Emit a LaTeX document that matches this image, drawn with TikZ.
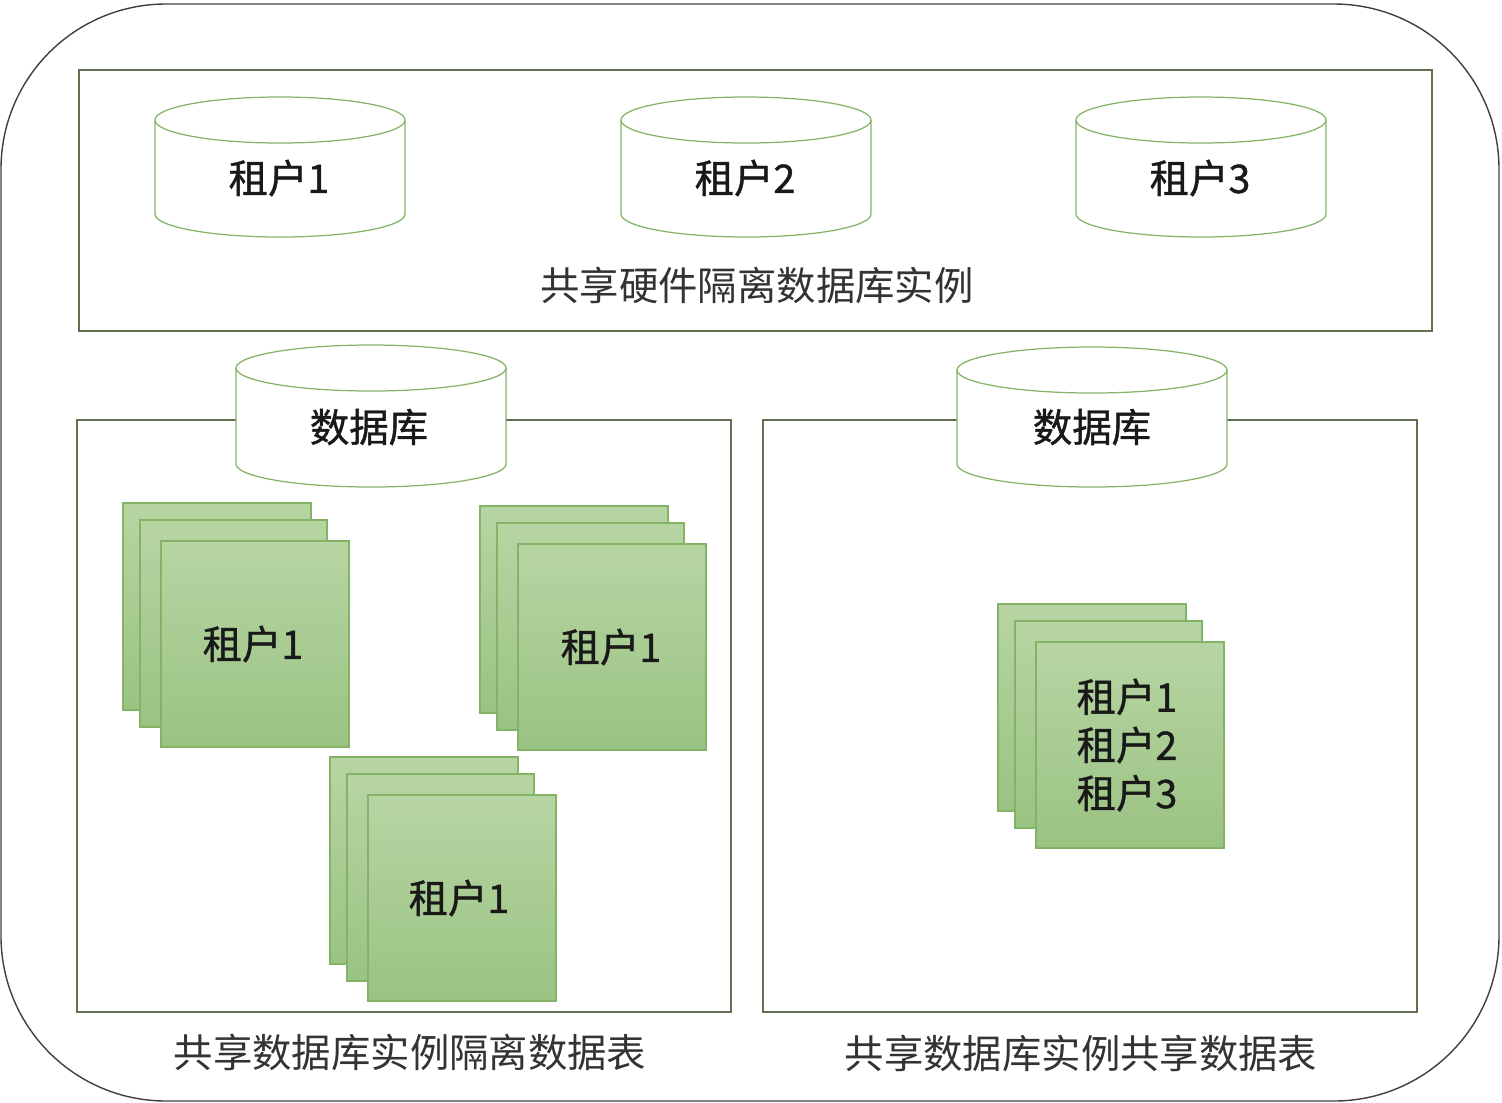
\documentclass[tikz,border=0pt]{standalone}
\usepackage{fontspec}
\setmainfont{Noto Sans CJK SC}
\newfontfamily\cjkheavy[FakeBold=1]{Noto Sans CJK SC}
\definecolor{boxline}{HTML}{5F6F50}
\definecolor{sheetline}{HTML}{82B366}
\definecolor{sheettop}{HTML}{B7D5A3}
\definecolor{sheetbottom}{HTML}{9AC382}
\tikzset{
    panel/.style={draw=boxline, line width=0.35pt},
    dbline/.style={draw=sheetline, line width=0.35pt, fill=white},
    sheet/.style={draw=sheetline, line width=0.45pt, top color=sheettop, bottom color=sheetbottom},
    tenant/.style={font=\cjkheavy\fontsize{11.2}{13.7}\selectfont, text=black!90, align=center, inner sep=0pt},
    caption/.style={font=\fontsize{11.2}{13}\selectfont, text=black!80, inner sep=0pt},
}
% cylinder: left, top, right, bottom
\newcommand{\dbcyl}[4]{
    \path[dbline] (#1,#2+23) -- (#1,#4-23)
        arc[start angle=180, end angle=0, x radius=(#3-#1)/2, y radius=23]
        -- (#3,#2+23);
    \path[dbline] ({(#1+#3)/2},#2+23) ellipse[x radius=(#3-#1)/2, y radius=23];
}
% three stacked sheets: left, top
\newcommand{\sheetstack}[2]{
    \path[sheet] (#1,#2) rectangle (#1+188,#2+207);
    \path[sheet] (#1+17,#2+17) rectangle (#1+204,#2+224);
    \path[sheet] (#1+38,#2+38) rectangle (#1+226,#2+244);
}
\begin{document}
\begin{tikzpicture}[x=0.01cm, y=-0.01cm]
    \useasboundingbox (0,0) rectangle (1502,1102);

    % Outer frame
    \draw[black!75, line width=0.4pt, rounded corners=1.65cm] (1,4) rectangle (1499,1101);

    %% Top panel
    \path[panel] (79,70) rectangle (1432,331);
    \dbcyl{155}{97}{405}{237}
    \dbcyl{621}{97}{871}{237}
    \dbcyl{1076}{97}{1326}{237}
    \node[tenant] (topdb1) at (279,178) {租户1};
    \node[tenant] (topdb2) at (745,178) {租户2};
    \node[tenant] (topdb3) at (1200,178) {租户3};
    \node[caption] (topcap) at (757,285) {共享硬件隔离数据库实例};

    %% Lower left panel
    \path[panel] (77,420) rectangle (731,1012);
    \dbcyl{236}{345}{506}{487}
    \node[tenant] (leftdb) at (369,427) {数据库};
    \sheetstack{123}{503}
    \sheetstack{480}{506}
    \sheetstack{330}{757}
    \node[tenant] (lefta) at (253,644) {租户1};
    \node[tenant] (leftb) at (611,647) {租户1};
    \node[tenant] (leftc) at (459,898) {租户1};
    \node[caption] (leftcap) at (410,1052) {共享数据库实例隔离数据表};

    %% Lower right panel
    \path[panel] (763,420) rectangle (1417,1012);
    \dbcyl{957}{347}{1227}{487}
    \node[tenant] (rightdb) at (1092,427) {数据库};
    \sheetstack{998}{604}
    \node[tenant] (rightall) at (1127,745) {租户1\\租户2\\租户3};
    \node[caption] (rightcap) at (1081,1053) {共享数据库实例共享数据表};
\end{tikzpicture}
\end{document}
